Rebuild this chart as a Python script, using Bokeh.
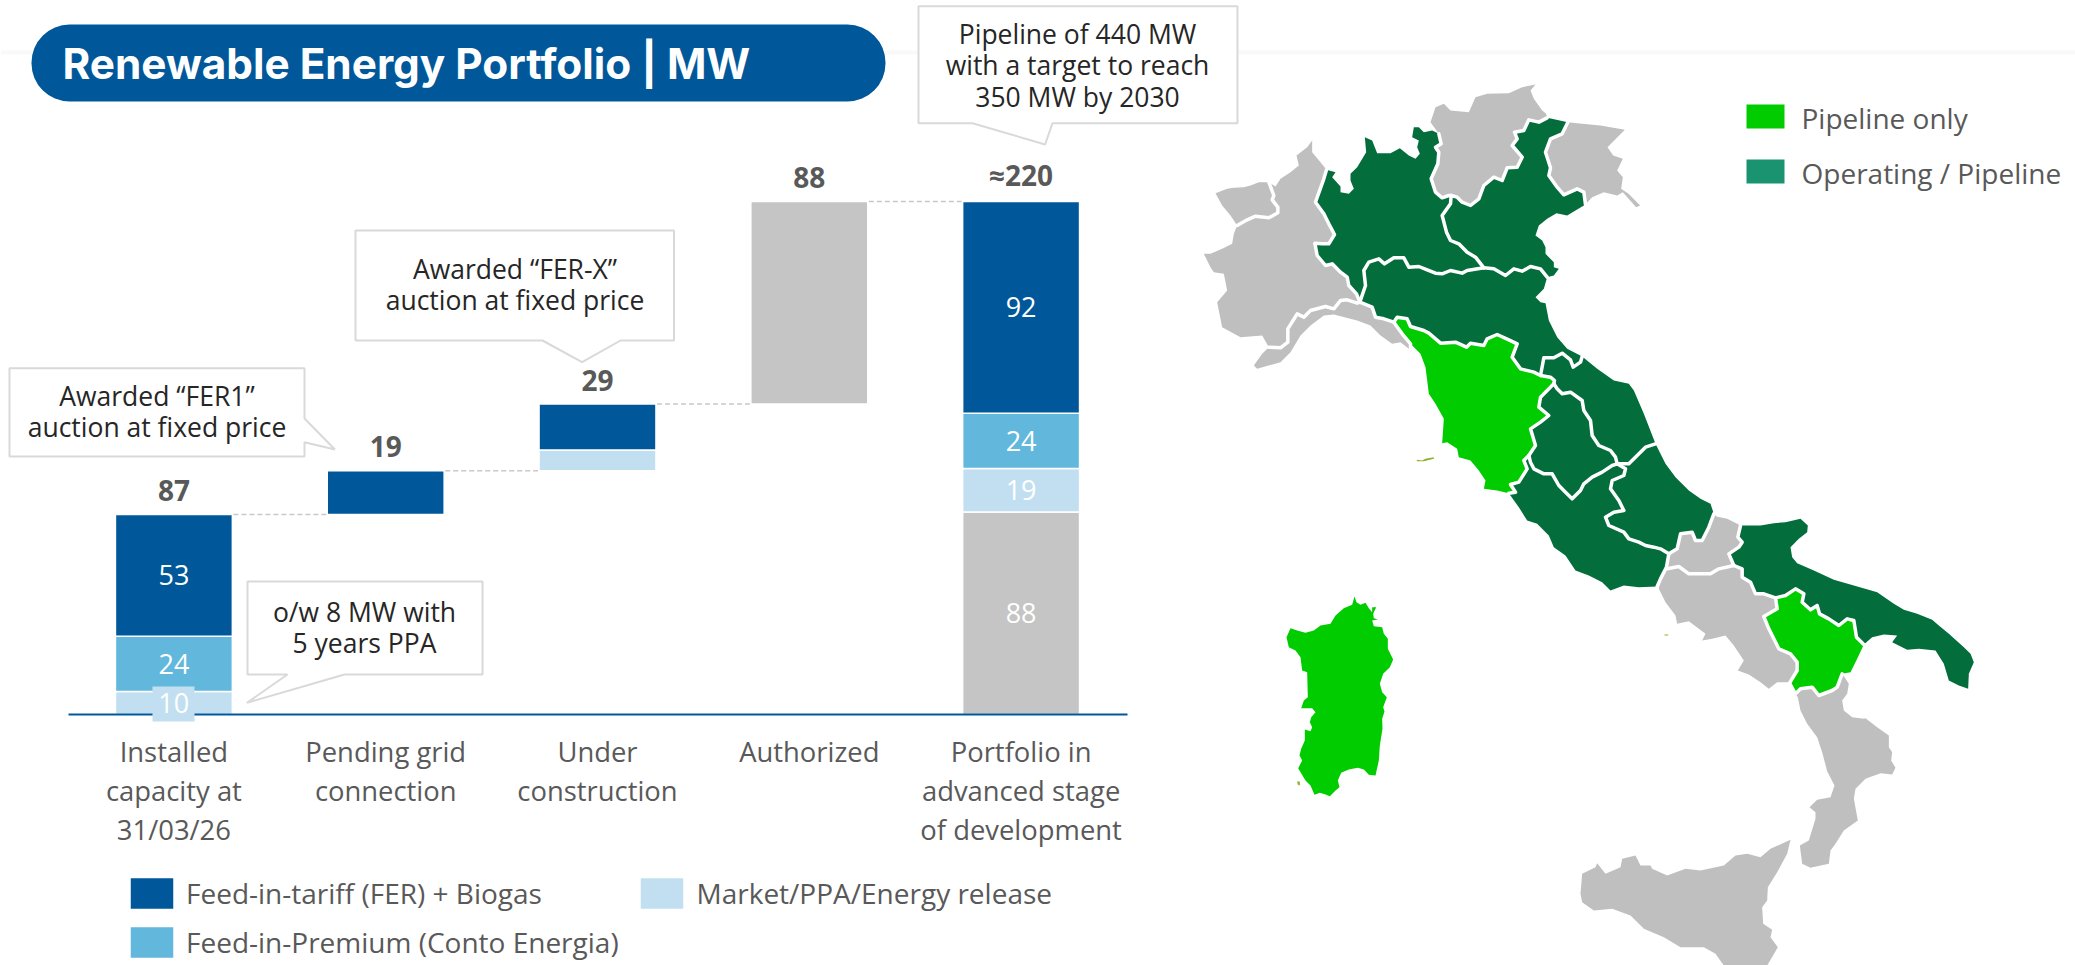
from bokeh.plotting import figure
from bokeh.models import (Range1d, LinearAxis, FixedTicker, ColumnDataSource,
                          BoxAnnotation, Label, Legend, LegendItem)
from bokeh.core.properties import value
from bokeh.embed import file_html
from bokeh.resources import INLINE

# ---------- chart data ----------
categories = ["Installed\ncapacity at\n31/03/26", "Pending grid\nconnection", "Under\nconstruction",
              "Authorized", "Portfolio in\nadvanced stage\nof development"]
base_mw = [0, 87, 106, 135, 0]
grey_mw = [0, 0, 0, 88, 88]
market_mw = [10, 0, 9, 0, 19]
premium_mw = [24, 0, 0, 0, 24]
tariff_mw = [53, 19, 20, 0, 92]
total_labels = ["87", "19", "29", "88", "≈220"]
market_labels = ["", "", "", "", "19"]
premium_labels = ["24", "", "", "", "24"]
tariff_labels = ["53", "", "", "", "92"]
grey_labels = ["", "", "", "", "88"]
connector_mw = [87, 106, 135, 223]
legend_names = ["Feed-in-tariff (FER) + Biogas", "Feed-in-Premium (Conto Energia)", "Market/PPA/Energy release"]
title_text = "Renewable Energy Portfolio | MW"
callout_texts = ["Pipeline of 440 MW\nwith a target to reach\n350 MW by 2030",
                 "Awarded “FER-X”\nauction at fixed price",
                 "Awarded “FER1”\nauction at fixed price",
                 "o/w 8 MW with\n5 years PPA"]
map_legend_names = ["Pipeline only", "Operating / Pipeline"]

# ---------- map outlines; each list is in the coordinates of one traced sheet ----------
# sheet N (north)
aosta_west = [(110,435),(90,405),(65,375),(45,338),(80,325),(100,322),(130,320),(150,315),(175,305)]
b_aosta_pied = [(205,305),(220,345),(215,358),(232,380),(232,397),(205,412),(165,407),(140,418),(110,435)]
pied_west = [(110,435),(100,460),(95,490),(65,505),(30,520),(10,520),(30,560),(40,575),(70,580),(80,630),(50,665),(65,740),(120,770),(185,765),(205,800)]
pied_north = [(205,305),(225,318),(240,295),(270,275),(295,255),(288,225),(320,200),(335,180),(335,215),(360,245),(378,268)]
b_pied_lig = [(205,800),(240,802),(262,785),(262,745),(290,700),(310,710),(330,690),(375,678),(400,685),(420,660),(440,658),(470,668),(478,665)]
b_pied_lom = [(378,268),(370,295),(345,365),(370,400),(385,430),(402,462),(385,490),(365,490),(343,488),(350,525),(375,555),(395,550),(420,575),(440,590),(445,615),(468,640),(478,665)]
lomb_north = [(378,268),(405,275),(395,290),(420,318),(420,335),(445,340),(460,325),(450,300),(450,280),(470,260),(497,215),(493,170),(515,180),(530,218),(570,218),(598,203),(625,225),(645,235),(658,220),(650,200),(655,180),(635,170),(640,140),(655,140),(670,155),(695,150),(715,160)]
b_lom_trent = [(715,160),(722,190),(705,200),(715,215),(712,250),(692,295),(705,335),(725,352),(745,345),(752,345)]
b_lom_ven = [(752,345),(750,370),(725,405),(738,455),(750,480),(775,490),(800,515),(825,530),(850,562)]
b_lom_emi = [(478,665),(495,615),(490,570),(505,545),(535,535),(552,550),(580,532),(610,532),(625,560),(655,558),(680,568),(705,578),(725,580),(750,570),(785,578),(800,570),(850,562)]
b_ven_emi = [(850,562),(880,565),(915,585),(940,565),(965,572),(990,558),(1020,565),(1040,590)]
veneto_coast = [(1040,590),(1060,585),(1075,565),(1060,560),(1060,545),(1035,520),(1035,500),(1025,480),(1005,465),(1015,435),(1040,415),(1068,398),(1100,405),(1155,372)]
b_ven_fri = [(1155,372),(1150,335),(1130,325),(1090,343),(1070,320),(1045,285),(1050,262),(1035,215),(1050,175),(1085,160),(1102,125)]
b_trent_ven = [(1040,112),(1015,125),(985,118),(970,150),(942,155),(950,175),(935,195),(965,230),(950,260),(920,262),(905,300),(880,290),(850,315),(835,355),(810,375),(785,365),(770,350),(752,345)]
trent_outer = [(690,125),(705,80),(730,70),(750,90),(805,95),(825,50),(860,40),(925,38),(965,20),(1005,12),(990,30),(1000,55),(1025,90),(1037,100),(1040,112)]
friuli_outer = [(1102,125),(1145,130),(1200,135),(1273,148),(1221,200),(1238,225),(1267,235),(1250,270),(1267,290),(1262,325),(1284,340),(1319,375),(1307,380),(1267,335),(1250,345),(1210,335),(1175,350),(1155,372)]
b_lig_emi = [(478,665),(515,680),(525,710),(550,715),(580,725)]
lig_coast = [(625,805),(600,785),(575,790),(540,765),(510,735),(470,720),(400,702),(370,705),(330,735),(300,765),(270,815),(240,845),(170,865),(160,855),(185,820),(205,800)]
emilia_coast = [(1040,590),(1030,625),(1005,650),(1020,665),(1035,668),(1045,720),(1070,770),(1100,805),(1145,828)]
# sheet C (centre)
b_tus_emi = [(40,65),(50,50),(80,55),(90,78),(130,90),(145,98),(180,128),(225,125),(258,140),(270,128),(310,135),(320,115),(350,102),(385,118),(410,130),(395,170),(420,205),(460,215),(480,225)]
b_mar_emi = [(480,225),(490,172),(520,172),(545,158),(570,178),(578,200),(600,185),(605,168)]
b_tus_mar = [(480,225),(510,230),(522,240),(520,250)]
b_tus_umb = [(520,250),(480,290),(475,320),(505,345),(480,365),(450,385),(465,435),(445,465)]
b_tus_laz = [(445,465),(430,480),(440,505),(415,545),(390,552),(405,575),(385,578)]
tusc_coast = [(385,578),(350,570),(310,565),(315,540),(295,510),(270,480),(235,470),(230,445),(200,425),(185,428),(190,355),(165,310),(145,280),(135,200),(120,160),(90,130),(65,100),(40,65)]
b_lig_tus = [(40,65),(65,100),(90,130),(90,148)]
b_umb_mar = [(520,250),(530,265),(545,280),(570,275),(605,300),(610,330),(630,360),(635,405),(655,435),(690,450),(705,470),(710,490)]
b_umb_laz = [(445,465),(450,485),(460,505),(490,520),(515,520),(535,555),(555,575),(575,595),(600,570),(610,550),(635,530),(665,515),(695,495),(710,490)]
b_mar_abr = [(825,430),(795,440),(770,465),(745,490),(710,490)]
marche_coast = [(605,168),(650,205),(700,240),(745,250),(760,270),(790,340),(825,430)]
b_abr_laz = [(710,490),(735,505),(730,525),(695,540),(690,565),(715,600),(730,630),(700,635),(675,650),(685,675),(730,695),(745,715),(775,725),(795,735),(820,740),(840,745),(865,760)]
b_laz_cam = [(865,760),(858,800),(840,835),(830,858)]
lazio_coast = [(385,578),(415,620),(440,660),(470,670),(505,705),(520,740),(555,765),(585,810),(625,825),(665,845),(690,870),(730,855),(775,860),(830,858)]
abr_coast = [(825,430),(855,490),(885,530),(925,570),(960,595),(990,610),(1000,640)]
b_abr_mol = [(1000,640),(985,680),(965,720),(945,720),(935,695),(900,700),(890,745),(865,760)]
# sheet S (south)
mol_north = [(288,78),(320,85),(350,100),(360,105)]
b_pug_mol = [(340,225),(325,190),(355,170),(365,155),(352,140),(360,105)]
b_mol_cam = [(140,235),(175,228),(205,250),(270,250),(295,235),(340,225)]
pug_outer = [(360,105),(420,105),(460,98),(495,95),(540,85),(562,105),(560,125),(535,145),(510,170),(515,200),(530,218),(580,240),(640,268),(700,285),(770,305),(820,340),(850,358),(890,370),(935,388),(955,405),(985,430),(1030,470),(1050,490),(1060,515),(1045,550),(1043,595),(1015,585),(985,570),(970,520),(945,480),(895,475),(860,478),(815,455),(830,435),(790,432),(755,440),(730,462)]
b_pug_bas = [(730,462),(708,440),(700,390),(680,385),(655,405),(625,385),(597,370),(590,345),(570,358),(545,335),(550,310),(525,295),(495,315),(465,322)]
b_pug_cam = [(465,322),(430,310),(405,310),(390,275),(365,260),(365,235),(340,225)]
b_bas_cam = [(465,322),(470,355),(430,378),(445,415),(460,445),(475,475),(510,490),(530,515),(530,540),(507,578)]
b_bas_cal = [(507,578),(525,610),(540,595),(575,590),(595,615),(635,600),(650,590),(665,550)]
bas_east = [(665,550),(690,545),(710,505),(730,462)]
camp_coast = [(115,295),(135,335),(165,375),(170,400),(205,392),(235,415),(255,430),(245,450),(275,445),(315,435),(340,465),(370,510),(352,540),(385,552),(420,575),(445,595),(470,575),(505,575)]
cal_north = [(685,580),(680,610),(665,630),(670,660),(695,680),(730,685)]
# sheet T (toe and Sicily)
cal_rest = [(915,113),(950,140),(985,165),(985,200),(995,215),(992,240),(1005,262),(995,282),(960,278),(915,295),(885,325),(880,355),(892,420),(850,450),(825,490),(810,510),(805,550),(750,562),(725,550),(718,495),(745,480),(765,415),(765,395),(747,380),(770,358),(810,350),(822,315),(800,272),(785,215),(770,170),(740,130),(720,90),(712,50)]
sicily = [(60,640),(65,580),(105,560),(110,548),(135,580),(180,560),(185,535),(225,525),(240,555),(270,555),(275,565),(320,585),(375,565),(420,570),(490,555),(525,525),(560,520),(600,530),(630,505),(690,478),(680,520),(650,575),(622,620),(620,660),(605,680),(608,730),(635,748),(630,770),(652,800),(620,855),(490,855),(465,820),(430,800),(360,800),(310,770),(250,745),(210,705),(155,685),(100,690),(65,665)]
# sheet D (Sardinia)
sardinia = [(252,33),(258,50),(270,58),(285,52),(295,68),(305,80),(305,65),(317,65),(308,85),(310,98),(322,102),(305,105),(310,122),(335,125),(340,145),(352,160),(352,190),(368,222),(358,245),(338,265),(328,295),(335,320),(349,335),(338,365),(342,378),(335,400),(336,430),(328,480),(325,525),(315,570),(295,568),(280,552),(262,547),(235,552),(212,562),(202,585),(207,605),(195,615),(178,632),(165,627),(148,622),(132,628),(120,600),(105,585),(83,548),(95,525),(87,510),(92,490),(103,465),(103,432),(120,437),(125,425),(118,410),(122,395),(135,380),(125,368),(92,368),(100,345),(112,335),(110,260),(95,255),(90,215),(75,195),(55,185),(48,155),(60,128),(80,135),(105,142),(130,135),(150,120),(180,115),(195,90),(220,68),(245,58)]
islet_sardinia = [(80,588),(88,588),(88,600),(82,598)]
islet_elba = [(108,478),(125,480),(135,475),(160,470),(160,475),(130,482),(110,482)]
islet_ponza = [(132,432),(143,432),(143,435),(132,435)]

# ---------- style ----------
DARK, MID, LIGHT, GREY = "#00589A", "#61B8DC", "#C1DFF0", "#C5C5C5"
TEXT = "#595959"
FONT = "Open Sans"
MAP_GREY, MAP_OP, MAP_PIPE, MAP_ISLET = "#BFBFBF", "#036E3C", "#00CC00", "#8CB02C"

W, H = 2075, 965
BAR0_X, BAR_STEP, BASE_Y, PX_PER_MW = 173.4, 211.8, 714, 2.30

PX = dict(x_range_name="px", y_range_name="px")
p = figure(width=W, height=H, x_range=Range1d(-BAR0_X / BAR_STEP, (W - BAR0_X) / BAR_STEP),
           y_range=Range1d(-(H - BASE_Y) / PX_PER_MW, BASE_Y / PX_PER_MW),
           x_axis_type=None, y_axis_type=None, toolbar_location=None, output_backend="svg",
           min_border=0, outline_line_color=None, background_fill_color=None, border_fill_color=None,
           margin=0)
p.extra_x_ranges["px"] = Range1d(0, W)
p.extra_y_ranges["px"] = Range1d(H, 0)

idx = list(range(len(categories)))
axis = LinearAxis(fixed_location=0, bounds=(-0.5, 4.5), ticker=FixedTicker(ticks=idx),
                  major_label_overrides=dict(zip(idx, categories)),
                  major_tick_line_color=None, minor_tick_line_color=None,
                  axis_line_color=DARK, axis_line_width=2,
                  major_label_text_font=FONT, major_label_text_font_size="27.4px",
                  major_label_text_color=TEXT, major_label_standoff=12,
                  major_label_text_line_height=1.06, major_label_orientation="horizontal")
p.add_layout(axis, "below")

# page band, title pill
p.add_layout(BoxAnnotation(left=0, right=W, top=50, bottom=54, fill_color="#F9F9F9", fill_alpha=1, line_color=None, level="underlay", **PX))
p.add_layout(BoxAnnotation(left=31, right=885, top=24, bottom=101, fill_color=DARK, fill_alpha=1, line_color=None,
                           border_radius=38, **PX))
p.add_layout(Label(x=62, y=63, text=title_text, text_font="Inter", text_font_style="bold",
                   text_font_size="42.3px", text_color="white", text_baseline="middle", **PX))

# callout shapes (drawn first, beneath everything of the chart)
callouts = [
    ([918, 1237, 1237, 1052, 1044.6, 972, 918], [5.7, 5.7, 122.7, 122.7, 144, 122.7, 122.7], 1077, 65),
    ([355, 673.5, 673.5, 620, 581.6, 542, 355], [230, 230, 340, 340, 361.7, 340, 340], 514.5, 284),
    ([9, 304, 304, 334.4, 304, 304, 9], [367.7, 367.7, 418, 449, 441.7, 456, 456], 156.5, 411),
    ([247, 482, 482, 344, 246.4, 287, 247], [581, 581, 674, 674, 702.3, 674, 674], 364, 627),
]
p.patches([c[0] for c in callouts], [c[1] for c in callouts], fill_color="white",
          line_color="#D9D9D9", line_width=2, **PX)
for (_, _, tx, ty), t in zip(callouts, callout_texts):
    p.add_layout(Label(x=tx, y=ty, text=t, text_font=FONT, text_font_size="26.5px", text_color="#262626",
                       text_align="center", text_baseline="middle", text_line_height=0.88, **PX))

# waterfall segments
cum = list(base_mw)
renderers = {}
for name, series, col, labels in [("grey", grey_mw, GREY, grey_labels),
                                  ("market", market_mw, LIGHT, market_labels),
                                  ("premium", premium_mw, MID, premium_labels),
                                  ("tariff", tariff_mw, DARK, tariff_labels)]:
    xs, bot, top, txt, mid = [], [], [], [], []
    for i, v in enumerate(series):
        if v > 0:
            xs.append(i); bot.append(cum[i]); top.append(cum[i] + v)
            txt.append(labels[i]); mid.append(cum[i] + v / 2)
            cum[i] += v
    src = ColumnDataSource(dict(x=xs, bottom=bot, top=top, txt=txt, mid=mid))
    renderers[name] = p.vbar(x="x", bottom="bottom", top="top", width=0.552, source=src, fill_color=col,
                             line_color="white", line_width=1.5)
    p.text(x="x", y="mid", text="txt", source=src, text_color="white", text_font=value(FONT),
           text_font_size="27px", text_align="center", text_baseline="middle")

# connectors and totals
conn = ColumnDataSource(dict(a=[i + 0.281 for i in idx[:-1]], b=[i + 1 - 0.281 for i in idx[:-1]], y=connector_mw))
p.segment(x0="a", y0="y", x1="b", y1="y", source=conn,
          line_color="#C8C8C8", line_dash="5 3", line_width=1.5)
total_src = ColumnDataSource(dict(x=idx, y=cum, t=total_labels, off=[-24, -24, -24, -24, -27]))
p.text(x="x", y="y", text="t", y_offset="off", source=total_src, text_color=TEXT, text_font=value(FONT),
       text_font_style="bold", text_font_size="28px", text_align="center", text_baseline="middle")

# "10" label sits in its own box over the baseline
p.add_layout(BoxAnnotation(left=152, right=194, top=686, bottom=721, fill_color=LIGHT, fill_alpha=1, line_color=None, **PX))
p.add_layout(Label(x=173.3, y=702, text=str(market_mw[0]), text_font=FONT, text_font_size="27px",
                   text_color="white", text_align="center", text_baseline="middle", **PX))

# legend
def legend_at(x, y, standoff, items):
    return Legend(items=items, location=(x, y), padding=0, margin=0, border_line_color=None,
                  background_fill_color=None, glyph_width=55, glyph_height=40, label_standoff=standoff, spacing=9,
                  label_text_font=FONT, label_text_font_size="28px", label_text_color=TEXT,
                  label_height=40)
p.add_layout(legend_at(124, H - 962, 7, [LegendItem(label=legend_names[0], renderers=[renderers["tariff"]]),
                                         LegendItem(label=legend_names[1], renderers=[renderers["premium"]])]))
p.add_layout(legend_at(633.5, H - 913, 8, [LegendItem(label=legend_names[2], renderers=[renderers["market"]])]))

# ---------- map ----------
def sheet(ox, oy):
    return lambda pts: [(ox + a / 3, oy + b / 3) for a, b in pts]
N, C, S, T, D = sheet(1200, 80), sheet(1380, 300), sheet(1620, 490), sheet(1560, 680), sheet(1270, 585)
def r(c):
    return c[::-1]

regions = [
    (N(b_aosta_pied) + N(aosta_west), MAP_GREY),
    (N(pied_north) + N(b_pied_lom) + r(N(b_pied_lig)) + r(N(pied_west)) + r(N(b_aosta_pied)), MAP_GREY),
    (N(trent_outer) + N(b_trent_ven) + r(N(b_lom_trent)), MAP_GREY),
    (N(friuli_outer) + N(b_ven_fri), MAP_GREY),
    (N(b_pied_lig) + N(b_lig_emi) + C(b_lig_tus) + N(lig_coast), MAP_GREY),
    (N(lomb_north) + N(b_lom_trent) + N(b_lom_ven) + r(N(b_lom_emi)) + r(N(b_pied_lom)), MAP_OP),
    (N(b_trent_ven) + N(b_lom_ven) + N(b_ven_emi) + N(veneto_coast) + N(b_ven_fri), MAP_OP),
    (N(b_lom_emi) + N(b_ven_emi) + N(emilia_coast) + r(C(b_mar_emi)) + r(C(b_tus_emi)) + r(N(b_lig_emi)), MAP_OP),
    (C(b_tus_emi) + C(b_tus_mar) + C(b_tus_umb) + C(b_tus_laz) + C(tusc_coast), MAP_PIPE),
    (C(b_mar_emi) + C(marche_coast) + C(b_mar_abr) + r(C(b_umb_mar)) + r(C(b_tus_mar)), MAP_OP),
    (C(b_umb_mar) + r(C(b_umb_laz)) + r(C(b_tus_umb)), MAP_OP),
    (C(b_umb_laz) + C(b_abr_laz) + C(b_laz_cam) + r(C(lazio_coast)) + r(C(b_tus_laz)), MAP_OP),
    (C(abr_coast) + C(b_abr_mol) + r(C(b_abr_laz)) + r(C(b_mar_abr)), MAP_OP),
    (r(C(b_abr_mol)) + S(mol_north) + r(S(b_pug_mol)) + r(S(b_mol_cam)), MAP_GREY),
    (S(pug_outer) + S(b_pug_bas) + S(b_pug_cam) + S(b_pug_mol), MAP_OP),
    (S(b_mol_cam) + r(S(b_pug_cam)) + S(b_bas_cam) + r(S(camp_coast)) + C(b_laz_cam)[-2:-1], MAP_GREY),
    (S(b_pug_bas) + S(b_bas_cam) + S(b_bas_cal) + S(bas_east), MAP_PIPE),
    (S(b_bas_cal)[1:] + S(cal_north) + T(cal_rest), MAP_GREY),
    (T(sicily), MAP_GREY),
    (D(sardinia), MAP_PIPE),
    (D(islet_sardinia), MAP_ISLET),
    (C(islet_elba), MAP_ISLET),
    (S(islet_ponza), MAP_ISLET),
]
map_src = ColumnDataSource(dict(xs=[[q[0] for q in ring] for ring, _ in regions],
                                ys=[[q[1] for q in ring] for ring, _ in regions],
                                fill=[c for _, c in regions]))
p.patches("xs", "ys", source=map_src, fill_color="fill", line_color=None, **PX)

borders = [N(c) for c in (b_aosta_pied, b_pied_lig, b_pied_lom, b_lom_trent, b_lom_ven, b_lom_emi, b_ven_emi,
                          b_ven_fri, b_trent_ven, b_lig_emi)] + \
          [C(c) for c in (b_lig_tus, b_tus_emi, b_mar_emi, b_tus_mar, b_tus_umb, b_tus_laz, b_umb_mar, b_umb_laz,
                          b_mar_abr, b_abr_laz, b_laz_cam, b_abr_mol)] + \
          [S(c) for c in (b_pug_mol, b_mol_cam, b_pug_bas, b_pug_cam, b_bas_cam, b_bas_cal)]
p.multi_line([[q[0] for q in c] for c in borders], [[q[1] for q in c] for c in borders],
             line_color="white", line_width=3.5, line_join="round", line_cap="round", **PX)

for y0, col, name in [(104, MAP_PIPE, map_legend_names[0]), (159, "#1A9470", map_legend_names[1])]:
    p.add_layout(BoxAnnotation(left=1746, right=1784, top=y0, bottom=y0 + 24, fill_color=col, fill_alpha=1, line_color=None, **PX))
    p.add_layout(Label(x=1801, y=y0 + 13, text=name, text_font=FONT, text_font_size="28px",
                       text_color=TEXT, text_baseline="middle", **PX))

open("out.html", "w").write(file_html(p, INLINE))
